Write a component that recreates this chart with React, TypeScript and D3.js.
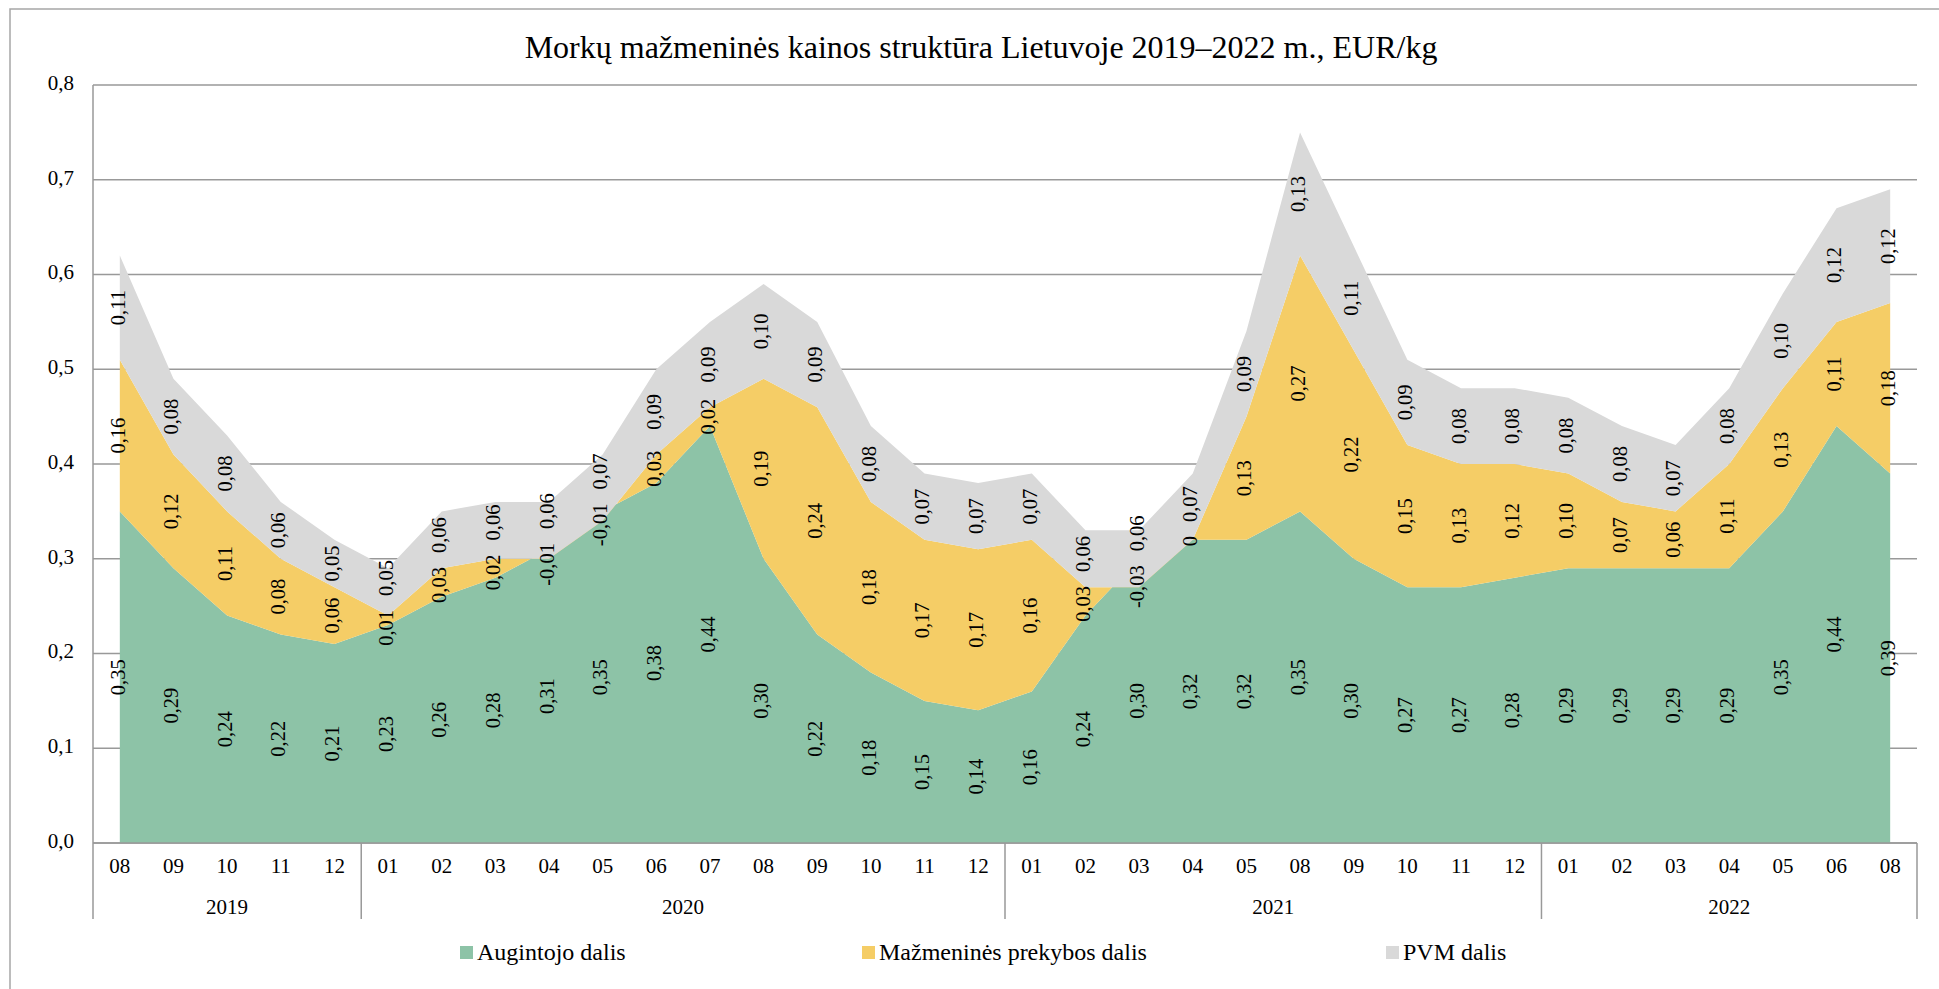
import React from "react";
import * as d3 from "d3";

const months = ["08","09","10","11","12","01","02","03","04","05","06","07","08","09","10","11","12","01","02","03","04","05","08","09","10","11","12","01","02","03","04","05","06","08"];
const yearGroups = [
  { year: "2019", count: 5 },
  { year: "2020", count: 12 },
  { year: "2021", count: 10 },
  { year: "2022", count: 7 },
];
const grower = [0.35,0.29,0.24,0.22,0.21,0.23,0.26,0.28,0.31,0.35,0.38,0.44,0.30,0.22,0.18,0.15,0.14,0.16,0.24,0.30,0.32,0.32,0.35,0.30,0.27,0.27,0.28,0.29,0.29,0.29,0.29,0.35,0.44,0.39];
const retail = [0.16,0.12,0.11,0.08,0.06,0.01,0.03,0.02,-0.01,-0.01,0.03,0.02,0.19,0.24,0.18,0.17,0.17,0.16,0.03,-0.03,0,0.13,0.27,0.22,0.15,0.13,0.12,0.10,0.07,0.06,0.11,0.13,0.11,0.18];
const vat = [0.11,0.08,0.08,0.06,0.05,0.05,0.06,0.06,0.06,0.07,0.09,0.09,0.10,0.09,0.08,0.07,0.07,0.07,0.06,0.06,0.07,0.09,0.13,0.11,0.09,0.08,0.08,0.08,0.08,0.07,0.08,0.10,0.12,0.12];
const seriesNames = ["Augintojo dalis", "Mažmeninės prekybos dalis", "PVM dalis"];
const seriesColors = ["#8DC3A7", "#F5CD66", "#D9D9D9"];
const yTicks = [0, 0.1, 0.2, 0.3, 0.4, 0.5, 0.6, 0.7, 0.8];
const title = "Morkų mažmeninės kainos struktūra Lietuvoje 2019–2022 m., EUR/kg";

const W = 1939, H = 989;
const left = 93, right = 1917, top = 85, bottom = 843;
const FONT = "Liberation Serif, Times New Roman, serif";
const LABEL_FS = 20.5;

const fmt = (v: number) => (v === 0 ? "0" : v.toFixed(2).replace(".", ","));
const fmtTick = (v: number) => v.toFixed(1).replace(".", ",");
const textLen = (s: string) =>
  s.split("").reduce((a, c) => a + (c === "," ? 0.25 : c === "-" ? 0.333 : 0.5), 0) * LABEL_FS;

export default function App() {
  const idx = months.map((_, i) => i);
  const x = d3.scaleBand<number>().domain(idx).range([left, right]).paddingInner(0).paddingOuter(0);
  const cx = (i: number) => (x(i) as number) + x.bandwidth() / 2;
  const y = d3.scaleLinear().domain([0, 0.8]).range([bottom, top]);

  const rows = idx.map((i) => ({ i, a: grower[i], b: retail[i], c: vat[i] }));
  const stack = d3.stack<any>().keys(["a", "b", "c"]).offset(d3.stackOffsetNone);
  const stacked = stack(rows);
  const area = d3
    .area<any>()
    .x((d) => cx(d.data.i))
    .y0((d) => y(d[0]))
    .y1((d) => y(d[1]));
  const values = [grower, retail, vat];

  // label positions with simple vertical overlap resolution per column
  const GAP = 14;
  const labels: { x: number; y: number; t: string; key: string }[] = [];
  idx.forEach((i) => {
    const col = stacked.map((s, k) => {
      const t = fmt(values[k][i]);
      return { y: y((s[i][0] + s[i][1]) / 2), len: textLen(t), t, k };
    });
    for (let iter = 0; iter < 5; iter++) {
      for (let k = 0; k < col.length - 1; k++) {
        const lo = col[k], up = col[k + 1];
        const need = lo.len / 2 + up.len / 2 + GAP;
        const sep = lo.y - up.y;
        if (sep < need) {
          const d = need - sep;
          lo.y += d * 0.35;
          up.y -= d * 0.65;
        }
      }
    }
    col.forEach((c) => labels.push({ x: cx(i), y: c.y, t: c.t, key: c.k + "-" + i }));
  });

  const bounds: number[] = [0];
  let acc = 0;
  yearGroups.forEach((g) => {
    acc += g.count;
    bounds.push(acc);
  });
  const bx = (k: number) => (k < months.length ? (x(k) as number) : right);

  const legendX = [460, 862, 1386];
  const ts = { fontFamily: FONT };

  return (
    <svg width={W} height={H} style={{ position: "absolute", left: 0, top: 0, background: "#fff", fontFamily: FONT }}>
      <rect x={0} y={0} width={W} height={H} fill="#fff" />
      <rect x={10} y={9} width={W + 20} height={H + 20} fill="none" stroke="#a6a6a6" strokeWidth={1.5} />
      <text x={981} y={58} textAnchor="middle" fontSize={32} fill="#000" style={ts}>{title}</text>

      {yTicks.map((t) => (
        <g key={t}>
          <line x1={left} x2={right} y1={y(t)} y2={y(t)} stroke="#999" strokeWidth={1.5} />
          <text x={74} y={y(t)} textAnchor="end" dominantBaseline="middle" fontSize={21} fill="#000" style={ts}>{fmtTick(t)}</text>
        </g>
      ))}

      {stacked.map((s, k) => (
        <path key={k} d={area(s) as string} fill={seriesColors[k]} stroke="none" />
      ))}

      <line x1={left} x2={left} y1={top} y2={bottom} stroke="#999" strokeWidth={1.5} />
      <line x1={left} x2={right} y1={bottom} y2={bottom} stroke="#999" strokeWidth={1.5} />
      {bounds.map((b, k) => (
        <line key={k} x1={bx(b)} x2={bx(b)} y1={bottom} y2={919} stroke="#999" strokeWidth={1.5} />
      ))}

      {labels.map((l) => (
        <text key={l.key} transform={`translate(${l.x},${l.y}) rotate(-90)`} textAnchor="middle" dominantBaseline="middle" fontSize={LABEL_FS} fill="#000" style={ts}>
          {l.t}
        </text>
      ))}

      {months.map((m, i) => (
        <text key={i} x={cx(i)} y={868} textAnchor="middle" dominantBaseline="middle" fontSize={21} fill="#000" style={ts}>{m}</text>
      ))}
      {yearGroups.map((g, k) => {
        const x0 = bx(bounds[k]);
        const x1 = bx(bounds[k + 1]);
        return (
          <text key={g.year} x={(x0 + x1) / 2} y={909} textAnchor="middle" dominantBaseline="middle" fontSize={21} fill="#000" style={ts}>{g.year}</text>
        );
      })}

      {seriesNames.map((n, k) => (
        <g key={n}>
          <rect x={legendX[k]} y={946} width={13} height={13} fill={seriesColors[k]} />
          <text x={legendX[k] + 17} y={954} dominantBaseline="middle" fontSize={24} fill="#000" style={ts}>{n}</text>
        </g>
      ))}
    </svg>
  );
}
